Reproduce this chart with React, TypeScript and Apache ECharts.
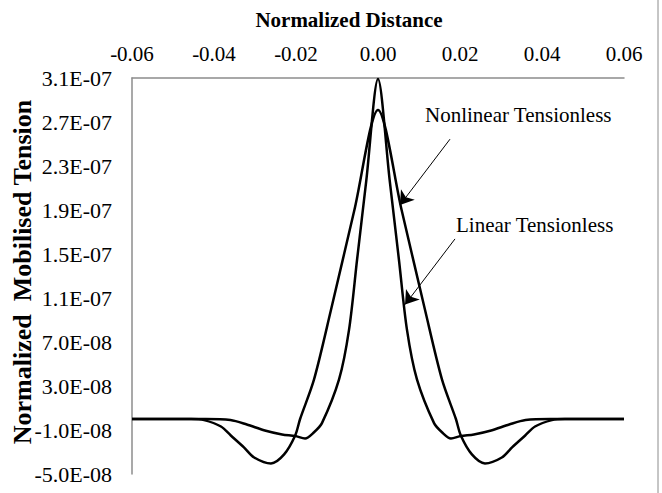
import React, { useEffect, useRef } from "react";
import * as echarts from "echarts";

// Axis ticks
const xTickValues = [-0.06, -0.04, -0.02, 0, 0.02, 0.04, 0.06];
const yTickValues = [-5e-8, -1e-8, 3e-8, 7e-8, 1.1e-7, 1.5e-7, 1.9e-7, 2.3e-7, 2.7e-7, 3.1e-7];

// Linear Tensionless (narrow, taller peak)
const linearX = [
  -0.06, -0.042, -0.036, -0.032, -0.0276, -0.0234, -0.0202, -0.0178, -0.0156, -0.0137,
  -0.0095, -0.00707, -0.0051, -0.00285, 0, 0.00285, 0.0051, 0.00707, 0.0095, 0.0137,
  0.0156, 0.0178, 0.0202, 0.0234, 0.0276, 0.032, 0.036, 0.042, 0.06,
];
const linearY = [
  0, 0, -1e-9, -5e-9, -1.04e-8, -1.4e-8, -1.55e-8, -1.77e-8, -1.2e-8, -4e-9,
  3.6e-8, 8.1e-8, 1.45e-7, 2.17e-7, 3.09e-7, 2.17e-7, 1.45e-7, 8.1e-8, 3.6e-8, -4e-9,
  -1.2e-8, -1.77e-8, -1.55e-8, -1.4e-8, -1.04e-8, -5e-9, -1e-9, 0, 0,
];

// Nonlinear Tensionless (wider, lower peak, deeper dips)
const nonlinearX = [
  -0.06, -0.0456, -0.0424, -0.0383, -0.0359, -0.0327, -0.0302, -0.0261, -0.0229, -0.0202,
  -0.019, -0.0156, -0.01146, -0.00576, 0, 0.00576, 0.01146, 0.0156, 0.019, 0.0202,
  0.0229, 0.0261, 0.0302, 0.0327, 0.0359, 0.0383, 0.0424, 0.0456, 0.06,
];
const nonlinearY = [
  0, 0, -1e-9, -6.8e-9, -1.5e-8, -2.58e-8, -3.5e-8, -4.04e-8, -3.22e-8, -1.5e-8,
  0, 3.6e-8, 9.93e-8, 1.9e-7, 2.81e-7, 1.9e-7, 9.93e-8, 3.6e-8, 0, -1.5e-8,
  -3.22e-8, -4.04e-8, -3.5e-8, -2.58e-8, -1.5e-8, -6.8e-9, -1e-9, 0, 0,
];

const FONT = "'Liberation Serif', 'Times New Roman', serif";

const fmtE = (v: number) => {
  const [m, e] = v.toExponential(1).split("e");
  const n = parseInt(e, 10);
  return `${m}E${n < 0 ? "-" : "+"}${String(Math.abs(n)).padStart(2, "0")}`;
};

export default function App() {
  const ref = useRef<HTMLDivElement>(null);

  useEffect(() => {
    if (!ref.current) return;
    const chart = echarts.init(ref.current, undefined, { renderer: "svg" });
    const zip = (xs: number[], ys: number[]) => xs.map((x, i) => [x, ys[i]]);

    chart.setOption({
      animation: false,
      backgroundColor: "#ffffff",
      grid: { left: 132, right: 38, top: 78, bottom: 19, containLabel: false, outerBoundsMode: "none" },
      xAxis: {
        type: "value",
        position: "top",
        min: -0.06,
        max: 0.06,
        interval: 0.02,
        axisLine: { show: true, onZero: false, lineStyle: { color: "#8c8c8c", width: 1.5 } },
        axisTick: { show: false },
        splitLine: { show: false },
        axisLabel: {
          margin: 14,
          fontFamily: FONT,
          fontSize: 21,
          color: "#000",
          formatter: (v: number) => v.toFixed(2),
          customValues: xTickValues,
        },
      },
      yAxis: {
        type: "value",
        min: -5e-8,
        max: 3.1e-7,
        axisLine: { show: true, onZero: false, lineStyle: { color: "#8c8c8c", width: 1.5 } },
        axisTick: { show: false, customValues: yTickValues },
        splitLine: { show: false },
        axisLabel: {
          margin: 20,
          fontFamily: FONT,
          fontSize: 22,
          color: "#000",
          formatter: (v: number) => fmtE(v),
          customValues: yTickValues,
        },
      },
      graphic: [
        {
          type: "text",
          x: 349,
          y: 20,
          style: {
            text: "Normalized Distance",
            fontFamily: FONT,
            fontWeight: "bold",
            fontSize: 21,
            fill: "#000",
            textAlign: "center",
            textVerticalAlign: "middle",
          },
        },
        {
          type: "text",
          x: 22,
          y: 272,
          rotation: Math.PI / 2,
          style: {
            text: "Normalized  Mobilised Tension",
            fontFamily: FONT,
            fontWeight: "bold",
            fontSize: 26,
            fill: "#000",
            textAlign: "center",
            textVerticalAlign: "middle",
          },
        },
        {
          type: "text",
          x: 425,
          y: 115,
          style: {
            text: "Nonlinear Tensionless",
            fontFamily: FONT,
            fontSize: 21,
            fill: "#000",
            textAlign: "left",
            textVerticalAlign: "middle",
          },
        },
        {
          type: "text",
          x: 456,
          y: 225,
          style: {
            text: "Linear Tensionless",
            fontFamily: FONT,
            fontSize: 21,
            fill: "#000",
            textAlign: "left",
            textVerticalAlign: "middle",
          },
        },
        {
          type: "line",
          shape: { x1: 658, y1: 0, x2: 658, y2: 493 },
          style: { stroke: "#8c8c8c", lineWidth: 1 },
        },
      ],
      series: [
        {
          name: "Linear Tensionless",
          type: "line",
          data: zip(linearX, linearY),
          showSymbol: false,
          symbol: "none",
          smooth: 0.3,
          lineStyle: { color: "#000", width: 2.5 },
          z: 3,
        },
        {
          name: "Nonlinear Tensionless",
          type: "line",
          data: zip(nonlinearX, nonlinearY),
          showSymbol: false,
          symbol: "none",
          smooth: 0.3,
          lineStyle: { color: "#000", width: 2.5 },
          z: 3,
          markLine: {
            silent: true,
            symbol: ["none", "arrow"],
            symbolSize: 13,
            label: { show: false },
            lineStyle: { color: "#000", width: 1, type: "solid" },
            itemStyle: { color: "#000" },
            data: [
              [{ coord: [0.01756, 2.544e-7] }, { coord: [0.00537, 1.946e-7] }],
              [{ coord: [0.01878, 1.637e-7] }, { coord: [0.00659, 1.04e-7] }],
            ],
          },
        },
      ],
    });

    return () => chart.dispose();
  }, []);

  return (
    <div
      ref={ref}
      style={{ position: "fixed", left: 0, top: 0, width: 662, height: 493, background: "#fff" }}
    />
  );
}
